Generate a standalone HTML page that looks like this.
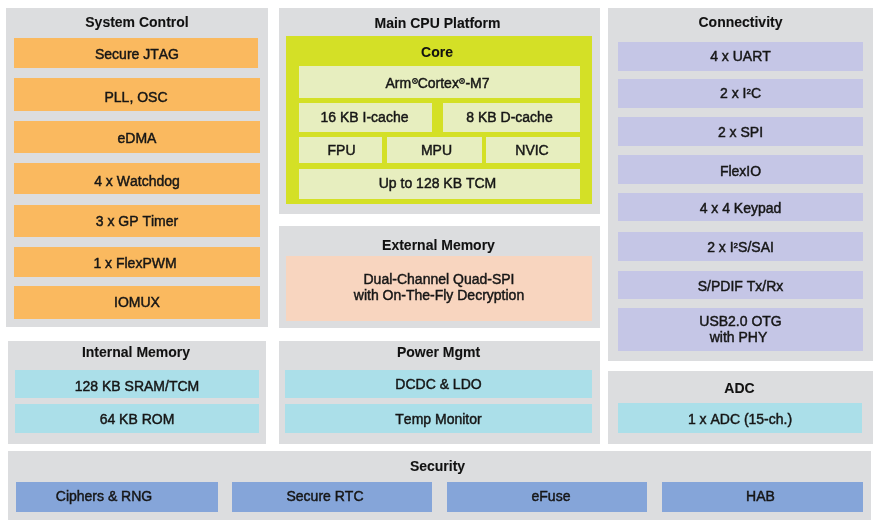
<!DOCTYPE html>
<html><head><meta charset="utf-8"><style>
html,body{margin:0;padding:0;background:#ffffff;width:876px;height:524px;overflow:hidden;position:relative}
.p{position:absolute}
.t{position:absolute;will-change:transform;display:flex;align-items:center;justify-content:center;text-align:center;font-family:"Liberation Sans",sans-serif;color:#161616;font-kerning:none;white-space:nowrap;-webkit-text-stroke:0.45px currentColor}
.it{font-size:14px;line-height:16px}
.tt{font-size:14px;line-height:16px;font-weight:bold;color:#111;-webkit-text-stroke:0.1px currentColor}
.reg{position:relative;top:-4px;margin:0 0 0 0.5px}
.s2{font-size:8px;line-height:8px;position:relative;top:-4px}
</style></head><body>

<div class="p" style="left:6px;top:8px;width:262px;height:319px;background:#dcdddf"></div>
<div class="p" style="left:14px;top:38px;width:244px;height:30px;background:#fab95f"></div>
<div class="p" style="left:14px;top:78px;width:246px;height:33px;background:#fab95f"></div>
<div class="p" style="left:14px;top:121px;width:246px;height:32px;background:#fab95f"></div>
<div class="p" style="left:14px;top:163px;width:246px;height:31px;background:#fab95f"></div>
<div class="p" style="left:14px;top:205px;width:246px;height:32px;background:#fab95f"></div>
<div class="p" style="left:14px;top:247px;width:246px;height:30px;background:#fab95f"></div>
<div class="p" style="left:14px;top:286px;width:246px;height:33px;background:#fab95f"></div>
<div class="p" style="left:279px;top:8px;width:321px;height:206px;background:#dcdddf"></div>
<div class="p" style="left:286px;top:36px;width:306px;height:168px;background:#d4e026"></div>
<div class="p" style="left:299px;top:66px;width:281px;height:32px;background:#e7eebf"></div>
<div class="p" style="left:299px;top:103px;width:133px;height:29px;background:#e7eebf"></div>
<div class="p" style="left:443px;top:103px;width:137px;height:29px;background:#e7eebf"></div>
<div class="p" style="left:299px;top:137px;width:83px;height:26px;background:#e7eebf"></div>
<div class="p" style="left:387px;top:137px;width:95px;height:26px;background:#e7eebf"></div>
<div class="p" style="left:486px;top:137px;width:94px;height:26px;background:#e7eebf"></div>
<div class="p" style="left:299px;top:169px;width:281px;height:30px;background:#e7eebf"></div>
<div class="p" style="left:279px;top:226px;width:321px;height:102px;background:#dcdddf"></div>
<div class="p" style="left:286px;top:256px;width:306px;height:65px;background:#f8d5bf"></div>
<div class="p" style="left:608px;top:8px;width:265px;height:353px;background:#dcdddf"></div>
<div class="p" style="left:618px;top:42px;width:245px;height:29px;background:#c5c6e6"></div>
<div class="p" style="left:618px;top:79px;width:245px;height:29px;background:#c5c6e6"></div>
<div class="p" style="left:618px;top:117px;width:245px;height:29px;background:#c5c6e6"></div>
<div class="p" style="left:618px;top:155px;width:245px;height:29px;background:#c5c6e6"></div>
<div class="p" style="left:618px;top:193px;width:245px;height:28px;background:#c5c6e6"></div>
<div class="p" style="left:618px;top:232px;width:245px;height:29px;background:#c5c6e6"></div>
<div class="p" style="left:618px;top:271px;width:245px;height:28px;background:#c5c6e6"></div>
<div class="p" style="left:618px;top:308px;width:245px;height:43px;background:#c5c6e6"></div>
<div class="p" style="left:8px;top:341px;width:258px;height:103px;background:#dcdddf"></div>
<div class="p" style="left:15px;top:370px;width:244px;height:28px;background:#abdfe9"></div>
<div class="p" style="left:15px;top:404px;width:244px;height:29px;background:#abdfe9"></div>
<div class="p" style="left:279px;top:341px;width:321px;height:103px;background:#dcdddf"></div>
<div class="p" style="left:285px;top:370px;width:307px;height:28px;background:#abdfe9"></div>
<div class="p" style="left:285px;top:404px;width:307px;height:29px;background:#abdfe9"></div>
<div class="p" style="left:608px;top:371px;width:265px;height:73px;background:#dcdddf"></div>
<div class="p" style="left:618px;top:403px;width:244px;height:30px;background:#abdfe9"></div>
<div class="p" style="left:8px;top:451px;width:863px;height:69px;background:#dcdddf"></div>
<div class="p" style="left:16px;top:482px;width:202px;height:30px;background:#85a5d9"></div>
<div class="p" style="left:232px;top:482px;width:200px;height:30px;background:#85a5d9"></div>
<div class="p" style="left:447px;top:482px;width:200px;height:30px;background:#85a5d9"></div>
<div class="p" style="left:662px;top:482px;width:201px;height:30px;background:#85a5d9"></div>
<div class="t tt" style="left:5.5px;top:14px;width:262px;height:16px"><div>System Control</div></div>
<div class="t it" style="left:15px;top:38.5px;width:244px;height:30px"><div>Secure JTAG</div></div>
<div class="t it" style="left:13px;top:80px;width:246px;height:33px"><div>PLL, OSC</div></div>
<div class="t it" style="left:14px;top:122px;width:246px;height:32px"><div>eDMA</div></div>
<div class="t it" style="left:13.5px;top:164.5px;width:246px;height:31px"><div>4 x Watchdog</div></div>
<div class="t it" style="left:14px;top:204.5px;width:246px;height:32px"><div>3 x GP Timer</div></div>
<div class="t it" style="left:11.5px;top:248px;width:246px;height:30px"><div>1 x FlexPWM</div></div>
<div class="t it" style="left:14px;top:285.0px;width:246px;height:33px"><div>IOMUX</div></div>
<div class="t tt" style="left:276.5px;top:14.5px;width:321px;height:16px"><div>Main CPU Platform</div></div>
<div class="t tt" style="left:284px;top:43.5px;width:306px;height:16px"><div>Core</div></div>
<div class="t it" style="left:296.5px;top:66.5px;width:281px;height:32px"><div>Arm<svg class="reg" width="6" height="6" viewBox="0 0 6 6"><circle cx="3" cy="3" r="2.35" fill="none" stroke="#1a1a1a" stroke-width="1.1"/><circle cx="3" cy="3" r="1" fill="#2a2a2a"/></svg>Cortex<svg class="reg" width="6" height="6" viewBox="0 0 6 6"><circle cx="3" cy="3" r="2.35" fill="none" stroke="#1a1a1a" stroke-width="1.1"/><circle cx="3" cy="3" r="1" fill="#2a2a2a"/></svg>-M7</div></div>
<div class="t it" style="left:297.5px;top:102px;width:133px;height:29px"><div>16 KB I-cache</div></div>
<div class="t it" style="left:441px;top:101.5px;width:137px;height:29px"><div>8 KB D-cache</div></div>
<div class="t it" style="left:300px;top:137px;width:83px;height:26px"><div>FPU</div></div>
<div class="t it" style="left:389px;top:137px;width:95px;height:26px"><div>MPU</div></div>
<div class="t it" style="left:484.5px;top:137px;width:94px;height:26px"><div>NVIC</div></div>
<div class="t it" style="left:296.5px;top:168.0px;width:281px;height:30px"><div>Up to 128 KB TCM</div></div>
<div class="t tt" style="left:278px;top:236.5px;width:321px;height:16px"><div>External Memory</div></div>
<div class="t it" style="left:286px;top:253.5px;width:306px;height:65px"><div>Dual-Channel Quad-SPI<br>with On-The-Fly Decryption</div></div>
<div class="t tt" style="left:608px;top:14px;width:265px;height:16px"><div>Connectivity</div></div>
<div class="t it" style="left:617.5px;top:41px;width:245px;height:29px"><div>4 x UART</div></div>
<div class="t it" style="left:618px;top:78px;width:245px;height:29px"><div>2 x I<span class="s2">2</span>C</div></div>
<div class="t it" style="left:617.5px;top:116.5px;width:245px;height:29px"><div>2 x SPI</div></div>
<div class="t it" style="left:618px;top:156px;width:245px;height:29px"><div>FlexIO</div></div>
<div class="t it" style="left:618px;top:193.5px;width:245px;height:28px"><div>4 x 4 Keypad</div></div>
<div class="t it" style="left:617.5px;top:231.5px;width:245px;height:29px"><div>2 x I<span class="s2">2</span>S/SAI</div></div>
<div class="t it" style="left:617.5px;top:272px;width:245px;height:28px"><div>S/PDIF Tx/Rx</div></div>
<div class="t it" style="left:618px;top:307px;width:245px;height:43px"><div>USB2.0 OTG<br><span style="position:relative;left:-2px">with PHY</span></div></div>
<div class="t tt" style="left:7px;top:343.5px;width:258px;height:16px"><div>Internal Memory</div></div>
<div class="t it" style="left:15px;top:372px;width:244px;height:28px"><div>128 KB SRAM/TCM</div></div>
<div class="t it" style="left:15px;top:404.0px;width:244px;height:29px"><div>64 KB ROM</div></div>
<div class="t tt" style="left:278px;top:344px;width:321px;height:16px"><div>Power Mgmt</div></div>
<div class="t it" style="left:285px;top:370px;width:307px;height:28px"><div>DCDC &amp; LDO</div></div>
<div class="t it" style="left:285px;top:404px;width:307px;height:29px"><div>Temp Monitor</div></div>
<div class="t tt" style="left:607px;top:380px;width:265px;height:16px"><div>ADC</div></div>
<div class="t it" style="left:618px;top:404px;width:244px;height:30px"><div>1 x ADC (15-ch.)</div></div>
<div class="t tt" style="left:6px;top:458px;width:863px;height:16px"><div>Security</div></div>
<div class="t it" style="left:3px;top:480.5px;width:202px;height:30px"><div>Ciphers &amp; RNG</div></div>
<div class="t it" style="left:224.5px;top:481px;width:200px;height:30px"><div>Secure RTC</div></div>
<div class="t it" style="left:450.8px;top:481px;width:200px;height:30px"><div>eFuse</div></div>
<div class="t it" style="left:659.5px;top:481px;width:201px;height:30px"><div>HAB</div></div>
</body></html>
